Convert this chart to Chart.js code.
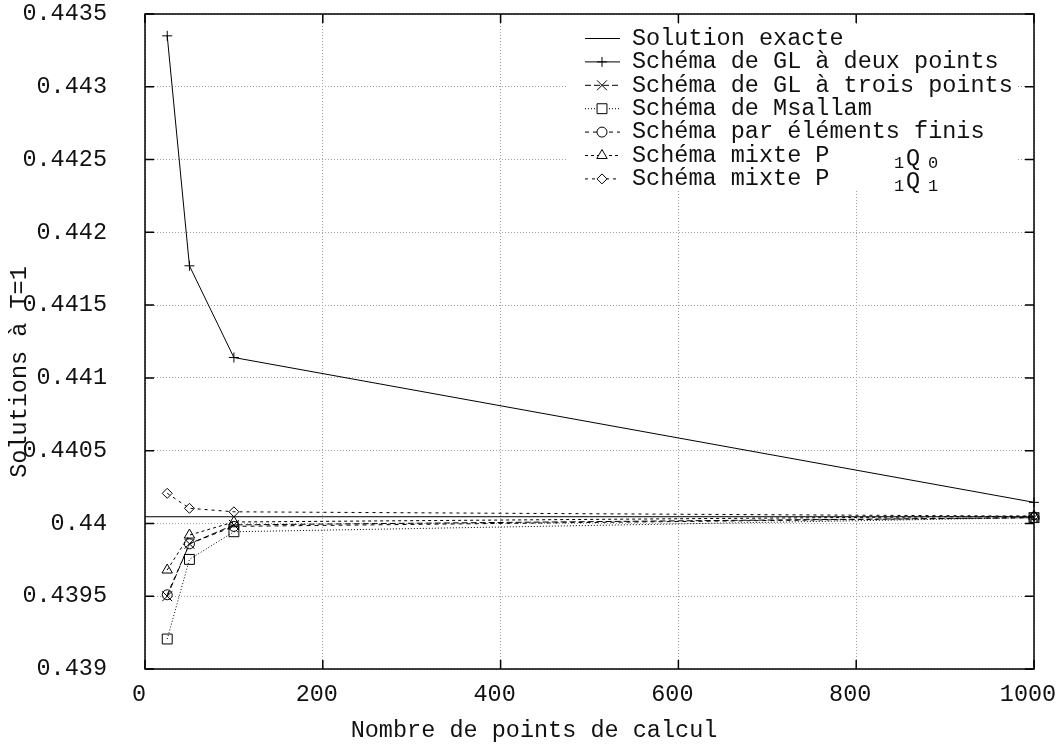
<!DOCTYPE html>
<html lang="fr">
<head>
<meta charset="UTF-8">
<title>Solutions à T=1</title>
<script src="https://cdn.jsdelivr.net/npm/chart.js"></script>
<style>
  body { margin: 0; background: #fff; }
  canvas { display: block; }
</style>
</head>
<body>
<canvas id="chart" width="1058" height="747"></canvas>
<script>
  // values
  const nPoints = [25, 50, 100, 1000];
  const exactX = [0, 1000];
  const exactY = [0.440046, 0.440046];
  const gl2 = [0.44335, 0.44177, 0.44114, 0.440145];
  const gl3 = [0.43950, 0.43986, 0.43999, 0.44004];
  const msallam = [0.439206, 0.439753, 0.439943, 0.44004];
  const elemFinis = [0.43951, 0.43986, 0.43998, 0.44004];
  const mixteQ0 = [0.43968, 0.43992, 0.44001, 0.44005];
  const mixteQ1 = [0.440207, 0.440104, 0.44008, 0.44005];

  const xTicks = [0, 200, 400, 600, 800, 1000];
  const yTicks = [0.439, 0.4395, 0.44, 0.4405, 0.441, 0.4415, 0.442, 0.4425, 0.443, 0.4435];

  const seriesNames = [
    'Solution exacte',
    'Schéma de GL à deux points',
    'Schéma de GL à trois points',
    'Schéma de Msallam',
    'Schéma par éléments finis',
    'Schéma mixte P',
    'Schéma mixte P'
  ];
  const seriesSubs = [null, null, null, null, null, ['1', 'Q', '0'], ['1', 'Q', '1']];

  const FONT = '"Liberation Mono", "DejaVu Sans Mono", monospace';
  const INK = '#111';
  const pts = ys => nPoints.map((x, i) => ({ x, y: ys[i] }));

  function series(label, data, style, dash, radius) {
    return {
      label, data,
      borderColor: '#000', borderWidth: 1, borderDash: dash,
      pointStyle: style || false, pointRadius: radius || 0,
      pointBorderColor: '#000', pointBackgroundColor: 'rgba(0,0,0,0)',
      pointBorderWidth: 1, tension: 0, fill: false, clip: false
    };
  }

  const datasets = [
    series(seriesNames[0], exactX.map((x, i) => ({ x, y: exactY[i] })), false, [], 0),
    series(seriesNames[1], pts(gl2), 'cross', [], 5),
    series(seriesNames[2], pts(gl3), 'crossRot', [6, 3], 7),
    series(seriesNames[3], pts(msallam), 'rect', [1, 2], 7),
    series(seriesNames[4], pts(elemFinis), 'circle', [4, 4], 5),
    series(seriesNames[5], pts(mixteQ0), 'triangle', [3, 3], 6),
    series(seriesNames[6], pts(mixteQ1), 'rectRot', [3, 4], 5)
  ];

  const frame = {
    id: 'frame',
    afterDraw(chart) {
      const { ctx, chartArea: a, scales } = chart;
      ctx.save();

      // legend, white box over the grid
      ctx.fillStyle = '#fff';
      ctx.fillRect(568, 26, 450, 164);
      ctx.textBaseline = 'middle';
      ctx.textAlign = 'left';
      chart.data.datasets.forEach((ds, i) => {
        const y = 38.5 + i * 23.4;
        ctx.strokeStyle = '#000';
        ctx.lineWidth = 1;
        ctx.setLineDash(ds.borderDash);
        ctx.beginPath();
        ctx.moveTo(585, y);
        ctx.lineTo(620, y);
        ctx.stroke();
        ctx.setLineDash([]);
        if (ds.pointStyle && Chart.helpers && Chart.helpers.drawPoint) {
          ctx.fillStyle = '#fff';
          Chart.helpers.drawPoint(ctx, {
            pointStyle: ds.pointStyle, radius: ds.pointRadius, rotation: 0, borderWidth: 1
          }, 602, y);
        }
        ctx.fillStyle = INK;
        ctx.font = '23.5px ' + FONT;
        ctx.fillText(ds.label, 632, y);
        const sub = seriesSubs[i];
        if (sub) {
          ctx.font = '17px ' + FONT;
          ctx.fillText(sub[0], 894, y + 8);
          ctx.font = '23.5px ' + FONT;
          ctx.fillText(sub[1], 906, y + 3);
          ctx.font = '17px ' + FONT;
          ctx.fillText(sub[2], 928, y + 8);
        }
      });

      // inward tick marks on all four sides
      ctx.strokeStyle = '#000';
      ctx.lineWidth = 1.5;
      ctx.beginPath();
      scales.x.ticks.forEach(t => {
        const px = scales.x.getPixelForValue(t.value);
        ctx.moveTo(px, a.bottom); ctx.lineTo(px, a.bottom - 9);
        ctx.moveTo(px, a.top); ctx.lineTo(px, a.top + 9);
      });
      scales.y.ticks.forEach(t => {
        const py = scales.y.getPixelForValue(t.value);
        ctx.moveTo(a.left, py); ctx.lineTo(a.left + 9, py);
        ctx.moveTo(a.right, py); ctx.lineTo(a.right - 9, py);
      });
      ctx.stroke();
      ctx.strokeRect(a.left, a.top, a.right - a.left, a.bottom - a.top);

      // axis titles
      ctx.fillStyle = INK;
      ctx.font = '23.5px ' + FONT;
      ctx.textAlign = 'center';
      ctx.textBaseline = 'middle';
      ctx.fillText('Nombre de points de calcul', 534, 731);
      ctx.translate(20, 372);
      ctx.rotate(-Math.PI / 2);
      ctx.fillText('Solutions à T=1', 0, 0);
      ctx.restore();
    }
  };

  const tickFont = { family: FONT, size: 23.5 };

  new Chart(document.getElementById('chart'), {
    type: 'line',
    data: { datasets },
    options: {
      responsive: false,
      animation: false,
      events: [],
      layout: { padding: { left: 0, right: 24, top: 14, bottom: 0 } },
      plugins: { legend: { display: false }, tooltip: { enabled: false } },
      scales: {
        x: {
          type: 'linear', min: 0, max: 1000,
          afterBuildTicks: s => { s.ticks = xTicks.map(v => ({ value: v })); },
          afterFit: s => { s.height = 78; s.paddingLeft = 0; s.paddingRight = 0; },
          grid: { color: '#a0a0a0', lineWidth: 1, drawTicks: false },
          border: { display: false, dash: [1, 2] },
          ticks: { font: tickFont, color: INK, padding: 12, maxRotation: 0, autoSkip: false,
                   labelOffset: -6, callback: v => String(v) }
        },
        y: {
          type: 'linear', min: 0.439, max: 0.4435,
          afterBuildTicks: s => { s.ticks = yTicks.map(v => ({ value: v })); },
          afterFit: s => { s.width = 145; s.paddingTop = 0; s.paddingBottom = 0; },
          grid: { color: '#a0a0a0', lineWidth: 1, drawTicks: false },
          border: { display: false, dash: [1, 2] },
          ticks: { font: tickFont, color: INK, padding: 38, autoSkip: false,
                   callback: v => String(+v.toFixed(4)) }
        }
      }
    },
    plugins: [frame]
  });
</script>
</body>
</html>
